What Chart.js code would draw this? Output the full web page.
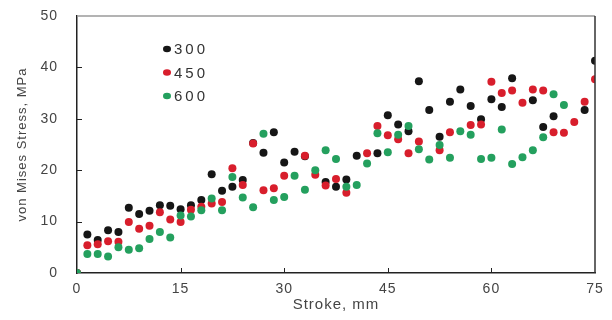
<!DOCTYPE html>
<html>
<head>
<meta charset="utf-8">
<script src="https://cdn.jsdelivr.net/npm/chart.js@4.4.0/dist/chart.umd.min.js"></script>
<style>
  html, body { margin: 0; padding: 0; background: #fff; }
  #wrap { width: 612px; height: 320px; }
</style>
</head>
<body>
<div id="wrap"><canvas id="stress-chart" width="612" height="320"></canvas></div>
<script>
// DATA

// stroke positions, mm
const stroke = [0, 1.5, 3, 4.5, 6, 7.5, 9, 10.5, 12, 13.5, 15, 16.5, 18, 19.5, 21, 22.5, 24, 25.5,
  27, 28.5, 30, 31.5, 33, 34.5, 36, 37.5, 39, 40.5, 42, 43.5, 45, 46.5, 48, 49.5, 51, 52.5,
  54, 55.5, 57, 58.5, 60, 61.5, 63, 64.5, 66, 67.5, 69, 70.5, 72, 73.5, 75];

// von Mises stress, MPa
const stress300 = [0, 7.5, 6.4, 8.3, 8.0, 12.7, 11.5, 12.1, 13.2, 13.1, 12.4, 13.2, 14.2, 19.2,
  16.0, 16.8, 18.1, 25.3, 23.4, 27.4, 21.5, 23.6, 22.7, null, 17.7, 16.8, 18.2, 22.8, null,
  23.3, 30.7, 28.9, 27.6, 37.3, 31.7, 26.5, 33.3, 35.7, 32.5, 29.9, 33.8, 32.3, 37.9, null,
  33.6, 28.4, 30.5, null, null, 31.7, 41.3];

const stress450 = [0, 5.4, 5.6, 6.2, 6.1, 9.9, 8.6, 9.2, 11.8, 10.4, 9.9, 12.3, 12.9, 13.5,
  13.8, 20.4, 17.1, 25.2, 16.1, 16.5, 18.9, null, 22.8, 19.1, 17.0, 18.3, 15.6, null, 23.3,
  28.6, 26.8, 26.0, 23.3, 25.6, null, 23.9, 27.4, null, 28.8, 28.9, 37.2, 35.0, 35.5, 33.1,
  35.7, 35.5, 27.4, 27.3, 29.4, 33.3, 37.7];

const stress600 = [0, 3.7, 3.7, 3.2, 5.0, 4.5, 4.8, 6.6, 8.0, 6.9, 11.2, 11.0, 12.2, 14.5,
  12.2, 18.7, 14.7, 12.8, 27.1, 14.2, 14.8, 18.9, 16.2, 20.0, 23.9, 22.2, 16.8, 17.1, 21.3,
  27.2, 23.5, 26.9, 28.6, 24.1, 22.1, 24.9, 22.4, 27.6, 26.9, 22.2, 22.4, 27.9, 21.2, 22.5,
  23.9, 26.4, 34.8, 32.7, null, null, null];

const seriesLabels = ['300', '450', '600'];
const seriesColors = ['#161616', '#d81e2c', '#24a05e'];

const xTicks = [0, 15, 30, 45, 60, 75];
const yTicks = [0, 10, 20, 30, 40, 50];

function toPoints(values) {
  return stroke.map(function (x, i) {
    return { x: x, y: values[i] };
  });
}

// PLUGIN: frame, inward ticks, in-plot legend

const framePlugin = {
  id: 'frame',
  beforeDraw(chart) {
    chart.ctx.letterSpacing = '1px';
  },
  afterDatasetsDraw(chart) {
    const ctx = chart.ctx;
    const a = chart.chartArea;
    const xs = chart.scales.x;
    const ys = chart.scales.y;
    ctx.save();
    ctx.letterSpacing = '0px';

    // top and right edges
    ctx.lineWidth = 1.5;
    ctx.strokeStyle = '#9a9a9a';
    ctx.beginPath();
    ctx.moveTo(a.left, a.top);
    ctx.lineTo(a.right, a.top);
    ctx.stroke();
    ctx.strokeStyle = '#333';
    ctx.beginPath();
    ctx.moveTo(a.right, a.top);
    ctx.lineTo(a.right, a.bottom);
    ctx.stroke();

    // inward tick marks
    ctx.strokeStyle = '#222';
    ctx.lineWidth = 1;
    ctx.beginPath();
    xTicks.slice(1, -1).forEach(function (v) {
      const px = Math.round(xs.getPixelForValue(v)) + 0.5;
      ctx.moveTo(px, a.bottom);
      ctx.lineTo(px, a.bottom - 5);
    });
    yTicks.slice(1, -1).forEach(function (v) {
      const py = Math.round(ys.getPixelForValue(v)) + 0.5;
      ctx.moveTo(a.left, py);
      ctx.lineTo(a.left + 5, py);
    });
    ctx.stroke();

    // legend
    ctx.font = '15px "Liberation Sans", Arial, sans-serif';
    ctx.letterSpacing = '3px';
    ctx.textAlign = 'left';
    ctx.textBaseline = 'middle';
    chart.data.datasets.forEach(function (ds, i) {
      const cy = a.top + 33 + i * 23.5;
      const cx = a.left + 90;
      ctx.fillStyle = ds.backgroundColor;
      ctx.beginPath();
      ctx.ellipse(cx, cy, 4, 3.3, 0, 0, Math.PI * 2);
      ctx.fill();
      ctx.fillStyle = '#333';
      ctx.fillText(ds.label, cx + 7, cy + 1);
    });
    ctx.restore();
  }
};

// CHART

const datasets = [stress300, stress450, stress600].map(function (vals, i) {
  return {
    label: seriesLabels[i],
    data: toPoints(vals),
    backgroundColor: seriesColors[i],
    borderColor: seriesColors[i],
    borderWidth: 0,
    pointRadius: 4,
    pointHoverRadius: 4,
    order: 3 - i
  };
});

const tickFont = { family: '"Liberation Sans", Arial, sans-serif', size: 14 };

const config = {
  type: 'scatter',
  data: { datasets: datasets },
  options: {
    responsive: false,
    animation: false,
    devicePixelRatio: 1,
    layout: { padding: { left: 0, right: 17, top: 16, bottom: 0 } },
    plugins: {
      legend: { display: false },
      tooltip: { enabled: false }
    },
    scales: {
      x: {
        type: 'linear',
        min: 0,
        max: 75,
        afterBuildTicks: function (s) { s.ticks = xTicks.map(function (v) { return { value: v }; }); },
        ticks: { color: '#444', font: tickFont, padding: 8, maxRotation: 0 },
        grid: { display: true, drawOnChartArea: false, drawTicks: false },
        border: { color: '#222', width: 1.5 },
        title: {
          display: true,
          text: 'Stroke, mm',
          color: '#444',
          font: { family: '"Liberation Sans", Arial, sans-serif', size: 15 },
          padding: { top: 0, bottom: 6 }
        },
        afterFit: function (s) { s.height = 47; }
      },
      y: {
        min: 0,
        max: 50,
        afterBuildTicks: function (s) { s.ticks = yTicks.map(function (v) { return { value: v }; }); },
        ticks: { color: '#444', font: tickFont, padding: 19 },
        grid: { display: true, drawOnChartArea: false, drawTicks: false },
        border: { color: '#222', width: 1.5 },
        title: {
          display: true,
          text: 'von Mises Stress, MPa',
          color: '#444',
          font: { family: '"Liberation Sans", Arial, sans-serif', size: 13 },
          padding: { top: 15, bottom: 0 }
        },
        afterFit: function (s) {
          s.width = 77;
          s.paddingTop = 8;
          s.paddingBottom = 8;
        }
      }
    }
  },
  plugins: [framePlugin]
};

const stressChart = new Chart(document.getElementById('stress-chart'), config);
</script>
</body>
</html>
